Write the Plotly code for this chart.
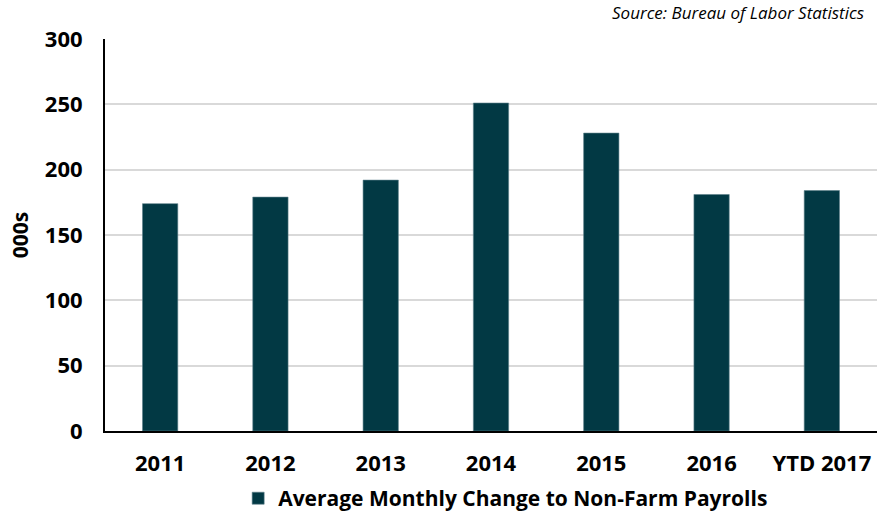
import plotly.graph_objects as go

categories = ["2011", "2012", "2013", "2014", "2015", "2016", "YTD 2017"]
values = [174, 179, 192, 251, 228, 181, 184]
series_name = "Average Monthly Change to Non-Farm Payrolls"
y_ticks = [0, 50, 100, 150, 200, 250, 300]

font_family = "Open Sans, Liberation Sans, sans-serif"

fig = go.Figure()
fig.add_trace(go.Bar(
    x=categories, y=values, name=series_name,
    marker=dict(color="#023944", line=dict(color="#5d8089", width=0.6)),
))

fig.update_layout(
    width=894, height=516,
    margin=dict(l=105, r=17, t=39, b=85, autoexpand=False),
    paper_bgcolor="white", plot_bgcolor="white",
    bargap=0.68,
    showlegend=True,
    legend=dict(orientation="h", x=0.519, xanchor="center", y=-0.12, yanchor="top",
                font=dict(family=font_family, size=21, color="black", weight="bold")),
    font=dict(family=font_family, color="black"),
)
fig.update_xaxes(
    showline=True, linecolor="black", linewidth=2, automargin=False,
    tickfont=dict(family=font_family, size=22, color="black", weight="bold"),
    ticks="", ticklabelstandoff=12,
)
fig.update_yaxes(
    range=[0, 300], tickvals=y_ticks, automargin=False,
    showline=True, linecolor="black", linewidth=2,
    showgrid=True, gridcolor="#d9d9d9", gridwidth=1.5,
    zeroline=False,
    tickfont=dict(family=font_family, size=22, color="black", weight="bold"),
    ticks="", ticklabelstandoff=16,
    title=dict(text="000s", font=dict(family=font_family, size=21, color="black", weight="bold"),
               standoff=10),
)
fig.add_annotation(
    text="Source: Bureau of Labor Statistics", xref="paper", yref="paper",
    x=1.0, y=1.0, xanchor="right", yanchor="bottom", yshift=13, xshift=-11, showarrow=False,
    font=dict(family=font_family, size=17, color="black", style="italic"),
)
fig.write_html("out.html", config={"displayModeBar": False},
               post_script="document.body.style.margin='0';")
